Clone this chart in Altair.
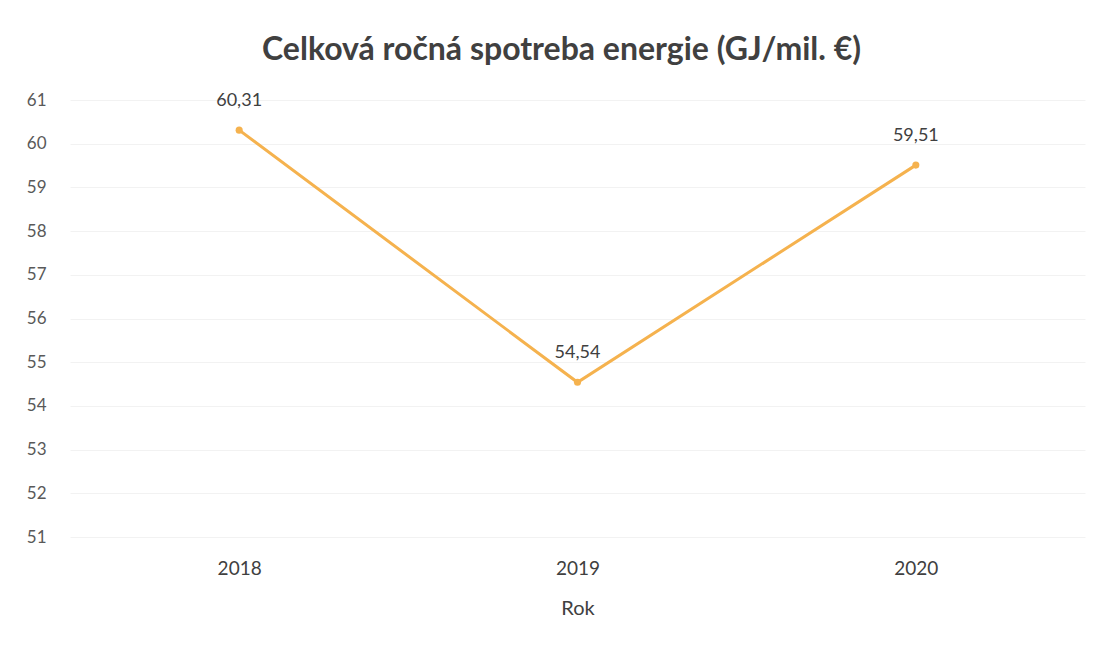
import altair as alt
import pandas as pd

years = ["2018", "2019", "2020"]
values = [60.31, 54.54, 59.51]
labels = ["60,31", "54,54", "59,51"]

df = pd.DataFrame({"Rok": years, "v": values, "lab": labels})

FONT = "Lato"
COLOR = "#F5B24E"

base = alt.Chart(df).encode(
    x=alt.X("Rok:N", sort=years,
            scale=alt.Scale(paddingInner=1, paddingOuter=0.5),
            axis=alt.Axis(title="Rok", labelAngle=0, domain=False, ticks=False,
                          labelFontSize=19, labelColor="#404040", labelPadding=22,
                          titleFontSize=20, titleColor="#404040", titleFontWeight="normal",
                          titlePadding=20, grid=False, labelFont=FONT, titleFont=FONT)),
    y=alt.Y("v:Q", scale=alt.Scale(domain=[51, 61], nice=False, zero=False),
            axis=alt.Axis(title=None, values=list(range(51, 62)), domain=False, ticks=False,
                          labelFontSize=17, labelColor="#595959", labelPadding=24,
                          gridColor="#F2F2F2", gridWidth=1, labelFont=FONT)),
)

line = base.mark_line(color=COLOR, strokeWidth=3)
pts = base.mark_circle(color=COLOR, size=50, opacity=1)
txt = base.mark_text(dy=-29, fontSize=18, color="#404040", font=FONT).encode(text="lab:N")

chart = (line + pts + txt).properties(
    width=1015, height=437,
    title=alt.TitleParams("Celková ročná spotreba energie (GJ/mil. €)", fontSize=32,
                          font=FONT, fontWeight="bold", color="#404040",
                          anchor="middle", offset=24, dx=-16),
    autosize=alt.AutoSizeParams(type="none"),
    padding={"left": 62, "top": 92, "right": 3, "bottom": 100},
).configure(background="white").configure_view(stroke=None)

chart.save("out.html", embed_options={"renderer": "svg", "actions": False})
